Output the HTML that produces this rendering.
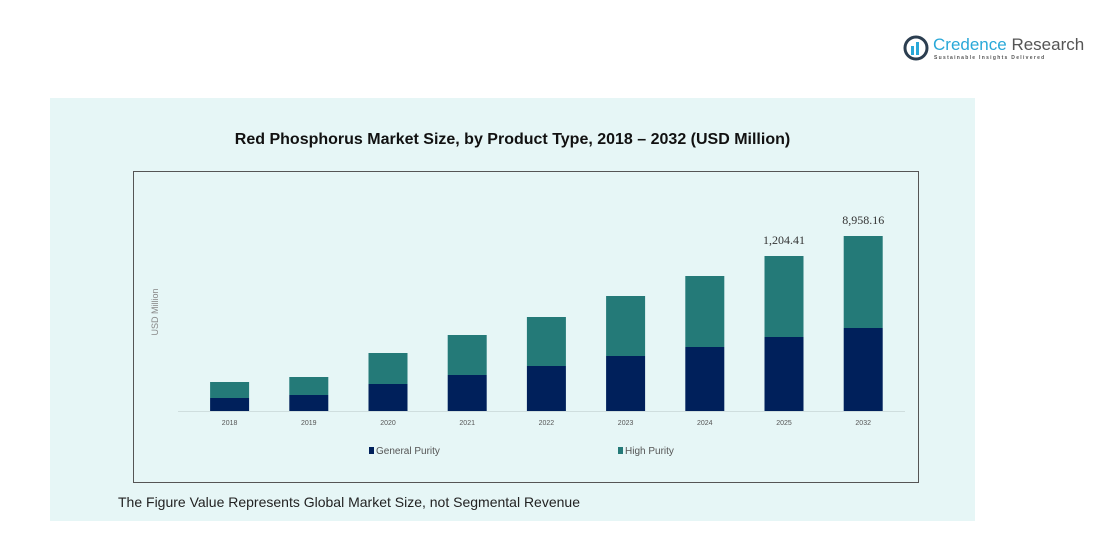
<!DOCTYPE html>
<html><head><meta charset="utf-8"><style>
body{margin:0;width:1115px;height:543px;background:#fff;font-family:"Liberation Sans",sans-serif;position:relative;overflow:hidden}
.abs{position:absolute}
</style></head><body>
<div class="abs" style="left:903px;top:33px;width:180px;height:32px">
<svg width="30" height="30" class="abs" style="left:0;top:0"><circle cx="13" cy="15" r="11" fill="none" stroke="#2c3e50" stroke-width="3"/><rect x="8" y="13" width="3" height="9" fill="#29a8d8"/><rect x="13" y="9" width="3" height="13" fill="#29a8d8"/></svg>
<div class="abs" style="left:30px;top:2px;font-size:17px;color:#29a8d8;white-space:nowrap">Credence <span style="color:#555">Research</span></div>
<div class="abs" style="left:31px;top:22px;font-size:5px;letter-spacing:1.3px;color:#555;white-space:nowrap;font-weight:bold">Sustainable Insights Delivered</div>
</div>
<div class="abs" style="left:50px;top:98px;width:925px;height:423px;background:#e6f6f6"></div>
<div class="abs" style="left:50px;width:925px;top:131px;text-align:center;font-weight:bold;font-size:16px;color:#111">Red Phosphorus Market Size, by Product Type, 2018 – 2032 (USD Million)</div>
<div class="abs" style="left:133px;top:171px;width:786px;height:312px;border:1px solid #555;box-sizing:border-box"></div>
<svg class="abs" style="left:0;top:0" width="1115" height="543" id="chart"></svg>
<div class="abs" style="left:118px;top:494px;font-size:14px;color:#222">The Figure Value Represents Global Market Size, not Segmental Revenue</div>
<script>
const categories=["2018","2019","2020","2021","2022","2023","2024","2025","2032"];
const generalPurity=[13,16,27,36,45,55,64,74,83];
const highPurity=[16,18,31,40,49,60,71,81,92];
const valueLabels=["","","","","","","","1,204.41","8,958.16"];
const yMax=240;
const svg=document.getElementById('chart');
const NS='http://www.w3.org/2000/svg';
const x0=190,step=79.2,bw=39,base=411,ph=240;
const xs=i=>x0+i*step+(step-bw)/2;
const ys=v=>base-v/yMax*ph;
function mk(t,a){const e=document.createElementNS(NS,t);for(const k in a)e.setAttribute(k,a[k]);svg.appendChild(e);return e;}
const ax=mk('line',{x1:178,x2:905,y1:base+0.5,y2:base+0.5,stroke:'#cfdede','stroke-width':1});


const yt=mk('text',{x:0,y:0,'font-size':9,fill:'#888',transform:'translate(158,312) rotate(-90)','text-anchor':'middle'});
yt.textContent='USD Million';


categories.forEach((c,i)=>{
 const g=generalPurity[i],h=highPurity[i];
 const r1=mk('rect',{x:xs(i),width:bw,y:ys(g),height:base-ys(g),fill:'#00205b'});
 
 
 const r2=mk('rect',{x:xs(i),width:bw,y:ys(g+h),height:ys(g)-ys(g+h),fill:'#247a78'});
 
 
 const t=mk('text',{x:xs(i)+bw/2,y:base+14,'font-size':7,fill:'#555','text-anchor':'middle'});
 t.textContent=c;
 
 
 if(valueLabels[i]){const v=mk('text',{x:xs(i)+bw/2,y:ys(g+h)-12,'font-size':12,fill:'#333','text-anchor':'middle','font-family':'Liberation Serif'});
 v.textContent=valueLabels[i];
 
 }
});
[["General Purity","#00205b",369],["High Purity","#247a78",618]].forEach(([n,col,x])=>{
 const r=mk('rect',{x:x,y:447,width:5,height:7,fill:col});
 
 
 const t=mk('text',{x:x+7,y:454,'font-size':10,fill:'#555'});
 t.textContent=n;
 
 
});
</script>
</body></html>
